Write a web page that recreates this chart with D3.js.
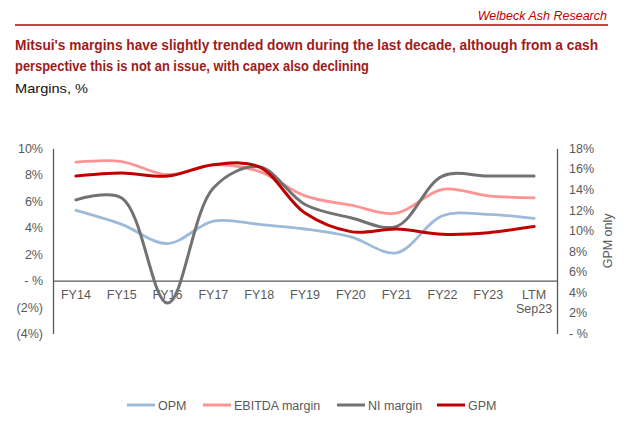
<!DOCTYPE html>
<html><head><meta charset="utf-8">
<script src="https://cdn.jsdelivr.net/npm/d3@7"></script>
<style>body{margin:0;background:#fff}svg{display:block}</style>
</head><body>
<svg id="c" width="640" height="431"></svg>
<script>
const categories = ["FY14","FY15","FY16","FY17","FY18","FY19","FY20","FY21","FY22","FY23","LTM\nSep23"];
const opm    = [5.3, 4.25, 2.8, 4.5, 4.25, 3.9, 3.3, 2.1, 4.9, 5.0, 4.7];
const ebitda = [8.95, 9.0, 8.0, 8.75, 8.25, 6.4, 5.7, 5.1, 6.9, 6.4, 6.25];
const ni     = [6.1, 6.25, -1.7, 7.0, 8.6, 5.75, 4.75, 4.1, 7.9, 7.9, 7.9];
const gpm    = [15.3, 15.6, 15.3, 16.4, 16.2, 11.7, 9.9, 10.15, 9.65, 9.8, 10.4];
const leftTicks = [-4,-2,0,2,4,6,8,10];
const rightTicks = [0,2,4,6,8,10,12,14,16,18];
const seriesNames = ["OPM","EBITDA margin","NI margin","GPM"];

const svg = d3.select("#c");
const gray = "#595959";

// header
svg.append("text").attr("x",607).attr("y",20).attr("text-anchor","end")
  .attr("font-family","Liberation Sans, Arial").attr("font-style","italic")
  .attr("font-size",12.5).attr("fill","#C00000").text("Welbeck Ash Research");
svg.append("line").attr("x1",15).attr("x2",608).attr("y1",25).attr("y2",25)
  .attr("stroke","#C00000").attr("stroke-width",1.5);
const t1 = svg.append("text").attr("x",15).attr("y",50)
  .attr("font-family","Liberation Sans, Arial").attr("font-weight","bold")
  .attr("font-size",14).attr("fill","#9E1B1B")
  .attr("textLength",583).attr("lengthAdjust","spacingAndGlyphs")
  .text("Mitsui's margins have slightly trended down during the last decade, although from a cash");
svg.append("text").attr("x",15).attr("y",71)
  .attr("font-family","Liberation Sans, Arial").attr("font-weight","bold")
  .attr("font-size",14).attr("fill","#9E1B1B")
  .attr("textLength",354).attr("lengthAdjust","spacingAndGlyphs")
  .text("perspective this is not an issue, with capex also declining");
svg.append("text").attr("x",15).attr("y",93)
  .attr("font-family","Liberation Sans, Arial")
  .attr("font-size",13).attr("fill","#111")
  .attr("textLength",73).attr("lengthAdjust","spacingAndGlyphs")
  .text("Margins, %");

const xL = 53, xR = 557, yTop = 148.3, yBot = 333.5;
const x = d3.scaleBand().domain(categories).range([xL,xR]);
const yL = d3.scaleLinear().domain([-4,10]).range([yBot,yTop]);
const yR = d3.scaleLinear().domain([0,18]).range([yBot,yTop]);
const fmtL = v => v < 0 ? "(" + Math.abs(v) + "%)" : (v === 0 ? "- %" : v + "%");
const fmtR = v => v === 0 ? "- %" : v + "%";

const font = "Liberation Sans, Arial";
// left axis
const gL = svg.append("g").attr("transform",`translate(${xL},0)`)
  .call(d3.axisLeft(yL).tickValues(leftTicks).tickFormat(fmtL).tickSize(0).tickPadding(10));
// right axis
const gR = svg.append("g").attr("transform",`translate(${xR},0)`)
  .call(d3.axisRight(yR).tickValues(rightTicks).tickFormat(fmtR).tickSize(0).tickPadding(12));
// x axis at zero
const gX = svg.append("g").attr("transform",`translate(0,${yL(0)})`)
  .call(d3.axisBottom(x).tickSize(0).tickPadding(10).tickFormat(() => ""));
[gL,gR,gX].forEach(g => {
  g.select(".domain").attr("stroke",gray).attr("stroke-width",1.3);
  g.selectAll("text").attr("font-family",font).attr("font-size",12.5).attr("fill",gray);
});
gX.selectAll(".tick text").each(function(d){
  const lines = d.split("\n");
  const t = d3.select(this).text(null);
  lines.forEach((l,i)=> t.append("tspan").attr("x",0).attr("dy", i===0 ? "0.71em" : "1.1em").text(l));
});

svg.append("text")
  .attr("transform",`translate(612,${(yTop+yBot)/2}) rotate(-90)`)
  .attr("text-anchor","middle").attr("font-family",font).attr("font-size",12.5)
  .attr("fill",gray).text("GPM only");

const cx = d => x(d) + x.bandwidth()/2;
const series = [
  {name:seriesNames[0], vals:opm, y:yL, color:"#9DBBD9", w:2.8},
  {name:seriesNames[1], vals:ebitda, y:yL, color:"#FF9393", w:2.8},
  {name:seriesNames[2], vals:ni, y:yL, color:"#727272", w:3},
  {name:seriesNames[3], vals:gpm, y:yR, color:"#C00000", w:3}
];
series.forEach(s => {
  const line = d3.line().x((d,i)=>cx(categories[i])).y(d=>s.y(d)).curve(d3.curveCatmullRom.alpha(0.5));
  svg.append("path").datum(s.vals).attr("d",line).attr("fill","none")
    .attr("stroke",s.color).attr("stroke-width",s.w).attr("stroke-linecap","round");
});

// legend
const legX = [127, 203, 337, 437];
series.forEach((s,i) => {
  svg.append("line").attr("x1",legX[i]).attr("x2",legX[i]+28).attr("y1",405).attr("y2",405)
    .attr("stroke",s.color).attr("stroke-width",3);
  svg.append("text").attr("x",legX[i]+31).attr("y",409.5).attr("font-family",font)
    .attr("font-size",12.5).attr("fill",gray).text(s.name);
});
</script>
</body></html>
